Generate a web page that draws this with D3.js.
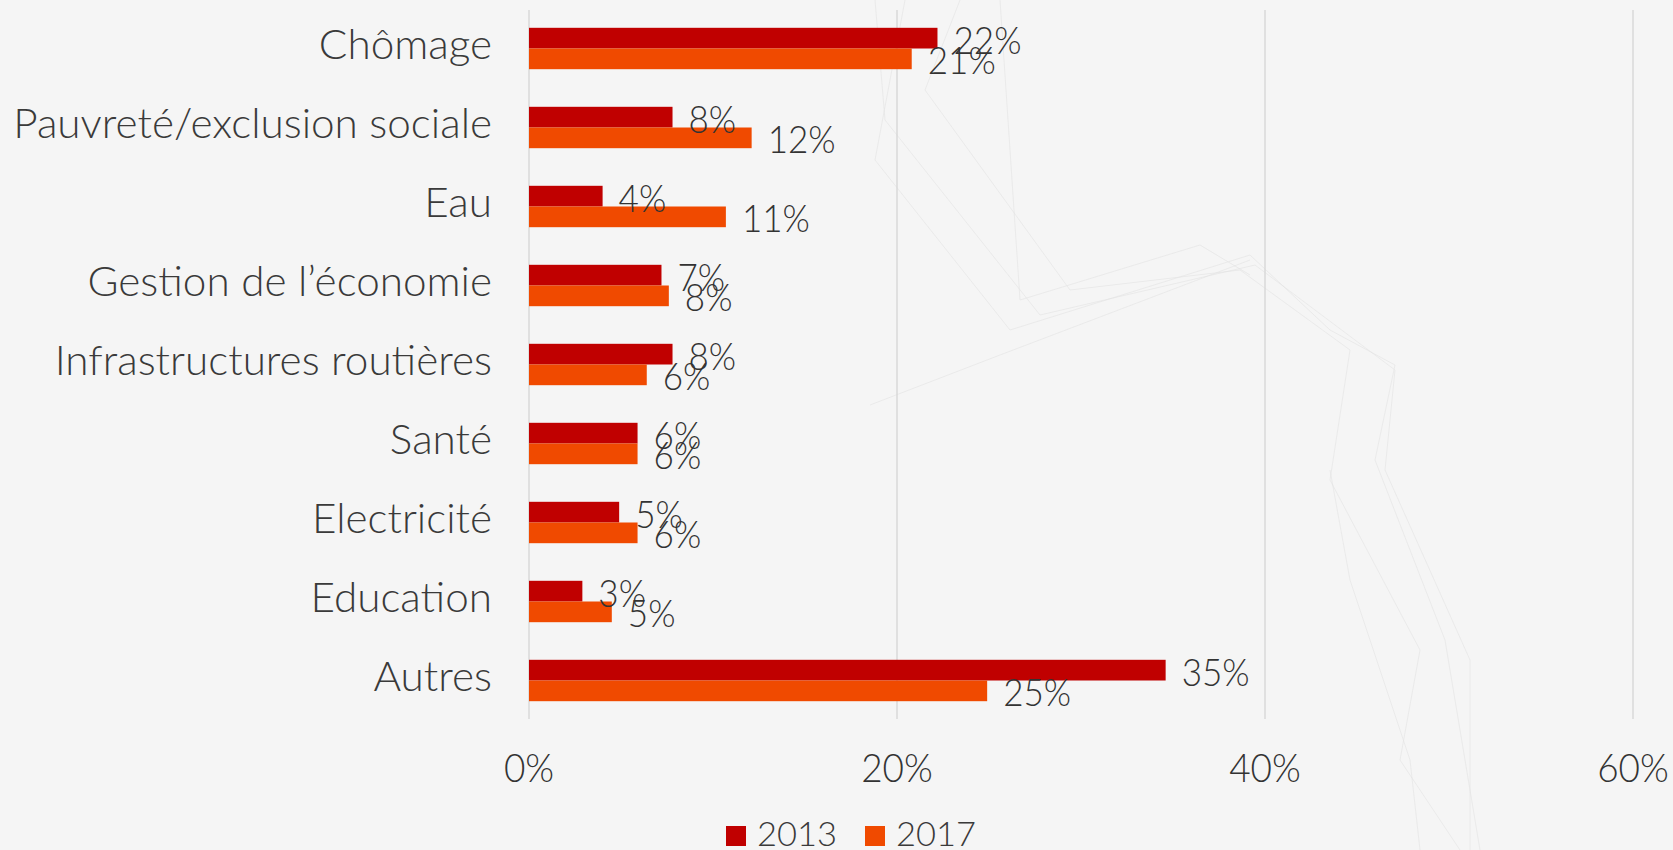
<!DOCTYPE html>
<html>
<head>
<meta charset="utf-8">
<script src="https://cdn.jsdelivr.net/npm/d3@7"></script>
<style>
    html, body { margin: 0; padding: 0; background: #f5f5f5; }
    svg { display: block; }
    .cat-label { font-family: "Lato", "Open Sans", sans-serif; font-weight: 300; fill: #3a3a3a; }
    .num-label { font-family: "Lato", "Open Sans", sans-serif; font-weight: 300; fill: #333; }
    .grid line { stroke: #d9d9d9; stroke-width: 1.5; }
    .deco { fill: none; stroke: #e2e2e2; stroke-width: 1; opacity: 0.6; }
</style>
</head>
<body>
<svg></svg>
<script>
//-------------------
// DATA
//-------------------
var categories = ["Chômage", "Pauvreté/exclusion sociale", "Eau", "Gestion de l’économie",
    "Infrastructures routières", "Santé", "Electricité", "Education", "Autres"];
var years = ["2013", "2017"];
var values2013 = [0.222, 0.078, 0.040, 0.072, 0.078, 0.059, 0.049, 0.029, 0.346];
var values2017 = [0.208, 0.121, 0.107, 0.076, 0.064, 0.059, 0.059, 0.045, 0.249];
var xTicks = [0, 0.2, 0.4, 0.6];
var colors = ["#c00000", "#f04a00"];

// faint background wireframe (decoration only)
var decoLines = [
    [[905, 0], [875, 160], [1010, 330], [1250, 255], [1330, 330], [1395, 365], [1375, 460], [1445, 640], [1480, 850]],
    [[875, 0], [885, 120], [1040, 315], [1255, 265], [1395, 370], [1385, 470], [1470, 660], [1470, 850]],
    [[960, 0], [925, 90], [1070, 290], [1240, 270], [1350, 350], [1330, 480], [1420, 650], [1400, 760], [1460, 850]],
    [[870, 405], [1000, 355], [1250, 260]],
    [[1000, 0], [1020, 300], [1200, 245], [1250, 275]],
    [[1330, 470], [1350, 580], [1410, 760], [1420, 850]]
];

//-------------------
// SETUP
//-------------------
var width = 1673,
    height = 850;

var svg = d3.select("svg")
    .attr("width", width)
    .attr("height", height);

svg.append("rect")
    .attr("width", width)
    .attr("height", height)
    .attr("fill", "#f5f5f5");

svg.append("g").selectAll("path")
    .data(decoLines)
    .enter()
    .append("path")
    .attr("class", "deco")
    .attr("d", d3.line());

var x = d3.scaleLinear()
    .domain([0, 0.6])
    .range([529, 1633]);

var y = d3.scaleBand()
    .domain(categories)
    .range([9, 720])
    .paddingInner(0.476)
    .paddingOuter(0.238);

var sub = d3.scaleBand()
    .domain(years)
    .range([0, y.bandwidth()]);

var pct = d3.format(".0%");

//-------------------
// GRID
//-------------------
svg.append("g")
    .attr("class", "grid")
    .selectAll("line")
    .data(xTicks)
    .enter()
    .append("line")
    .attr("x1", d => x(d))
    .attr("x2", d => x(d))
    .attr("y1", 10)
    .attr("y2", 719);

// x axis labels
svg.append("g").selectAll("text")
    .data(xTicks)
    .enter()
    .append("text")
    .attr("class", "num-label")
    .attr("x", d => x(d))
    .attr("y", 782)
    .attr("text-anchor", "middle")
    .style("font-size", "39px")
    .text(pct);

//-------------------
// BARS
//-------------------
var rows = categories.map((c, i) => ({ cat: c, vals: [values2013[i], values2017[i]] }));

var groups = svg.append("g").selectAll("g")
    .data(rows)
    .enter()
    .append("g")
    .attr("transform", d => "translate(0," + y(d.cat) + ")");

groups.selectAll("rect")
    .data(d => d.vals.map((v, j) => ({ year: years[j], v: v, j: j })))
    .enter()
    .append("rect")
    .attr("x", x(0))
    .attr("y", d => sub(d.year))
    .attr("width", d => x(d.v) - x(0))
    .attr("height", sub.bandwidth())
    .attr("fill", d => colors[d.j]);

// value labels
groups.selectAll("text.num-label")
    .data(d => d.vals.map((v, j) => ({ year: years[j], v: v })))
    .enter()
    .append("text")
    .attr("class", "num-label")
    .attr("x", d => x(d.v) + 16)
    .attr("y", d => sub(d.year) + sub.bandwidth() / 2 + 15.5)
    .style("font-size", "37px")
    .text(d => pct(d.v));

// squeeze the numbers to a condensed look ("22%" is ~68px wide in the original)
var probe = svg.append("text").attr("class", "num-label").style("font-size", "37px").text("22%");
var squeeze = 68 / probe.node().getComputedTextLength();
probe.remove();
svg.selectAll("text.num-label").each(function () {
    var len = this.getComputedTextLength();
    d3.select(this)
        .attr("textLength", len * squeeze)
        .attr("lengthAdjust", "spacingAndGlyphs");
});

// category labels
svg.append("g").selectAll("text")
    .data(categories)
    .enter()
    .append("text")
    .attr("class", "cat-label")
    .attr("x", 492)
    .attr("y", d => y(d) + y.bandwidth() / 2 + 10.5)
    .attr("text-anchor", "end")
    .style("font-size", "32px")
    .text(d => d);

// fit longest category label to the reference width
var longest = d3.max(svg.selectAll("text.cat-label").nodes(), n => n.getComputedTextLength());
var catSize = 32 * 479 / longest;
svg.selectAll("text.cat-label").style("font-size", catSize + "px");

//-------------------
// LEGEND
//-------------------
var legend = svg.append("g").selectAll("g")
    .data(years)
    .enter()
    .append("g")
    .attr("transform", (d, i) => "translate(" + [726, 865][i] + ",0)");

legend.append("rect")
    .attr("y", 826)
    .attr("width", 20)
    .attr("height", 20)
    .attr("fill", (d, i) => colors[i]);

legend.append("text")
    .attr("class", "cat-label")
    .attr("x", 31)
    .attr("y", 846)
    .style("font-size", "33px")
    .attr("textLength", 80)
    .attr("lengthAdjust", "spacingAndGlyphs")
    .text(d => d);
</script>
</body>
</html>
